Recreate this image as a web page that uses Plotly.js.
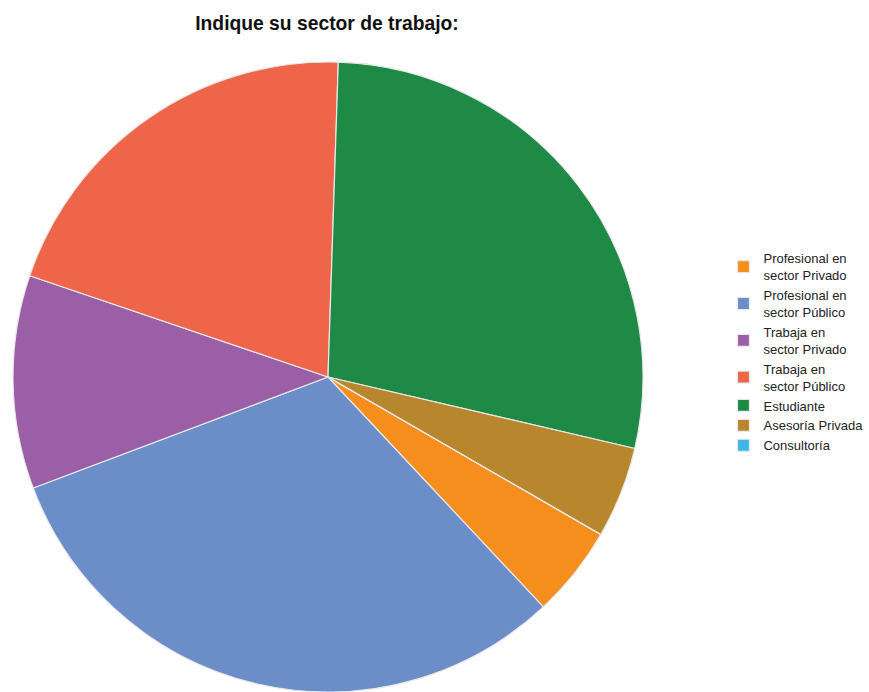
<!DOCTYPE html>
<html>
<head>
<meta charset="utf-8">
<script src="https://cdn.plot.ly/plotly-3.0.1.min.js"></script>
<style>html,body{margin:0;padding:0;background:#fff;}</style>
</head>
<body>
<div id="chart" style="width:869px;height:692px;"></div>
<script>
const categories = [
  "Profesional en<br>sector Privado",
  "Profesional en<br>sector Público",
  "Trabaja en<br>sector Privado",
  "Trabaja en<br>sector Público",
  "Estudiante",
  "Asesoría Privada",
  "Consultoría"
];
const counts = [3, 20, 7, 13, 18, 3, 0];
const colors = ["#F68E1E", "#6C8EC8", "#9A5FA6", "#EF654A", "#1F8A45", "#B8862C", "#3BB8E8"];
const chartTitle = "Indique su sector de trabajo:";

const trace = {
  type: "pie",
  labels: categories,
  values: counts,
  sort: false,
  direction: "clockwise",
  rotation: 120,
  textinfo: "none",
  hoverinfo: "label+value+percent",
  marker: { colors: colors, line: { color: "#e8e8e8", width: 1.2 } },
  domain: { x: [0, 630 / 856], y: [0, 1] },
  showlegend: true
};

const layout = {
  width: 869,
  height: 692,
  margin: { l: 13, r: 0, t: 62, b: 0 },
  paper_bgcolor: "#ffffff",
  font: { family: "Liberation Sans, Arial, sans-serif", color: "#222" },
  title: {
    text: "<b>" + chartTitle + "</b>",
    font: { size: 19.3, color: "#111", family: "Liberation Sans, Arial, sans-serif" },
    x: 327 / 869, xanchor: "center", xref: "container",
    y: 1 - 23 / 692, yanchor: "middle", yref: "container"
  },
  legend: {
    x: 0.83, xanchor: "left",
    y: 0.54, yanchor: "middle",
    font: { size: 13, color: "#222" },
    tracegroupgap: 0,
    itemwidth: 30,
    bgcolor: "rgba(0,0,0,0)"
  }
};

Plotly.newPlot("chart", [trace], layout, { displayModeBar: false, staticPlot: true });
</script>
</body>
</html>
